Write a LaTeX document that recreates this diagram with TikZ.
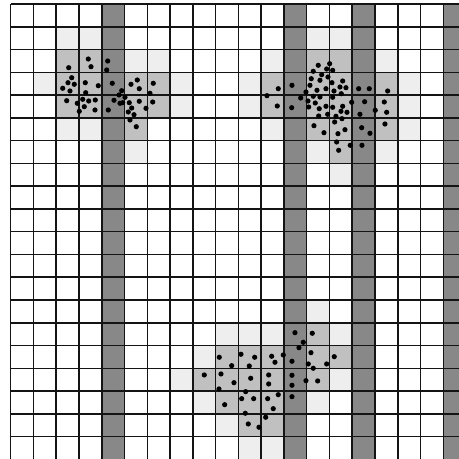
\documentclass[tikz,border=0pt]{standalone}
\usepackage{tikz}

\begin{document}
\begin{tikzpicture}[x=5.6925mm,y=-5.6925mm,
  faintcell/.style={fill={rgb,255:red,238;green,238;blue,238}},
  shadecell/.style={fill={rgb,255:red,192;green,192;blue,192}},
  stripcell/.style={fill={rgb,255:red,136;green,136;blue,136}},
  gridline/.style={draw={rgb,255:red,20;green,20;blue,20},line width=0.38mm},
  seedpt/.style={fill=black}]
% 20 x 20 cells, one cell = 22.77 px, top-left grid corner at (10.7,4) px
\useasboundingbox (-0.47,-0.176) rectangle (19.69,19.98);
\clip (-0.47,-0.176) rectangle (19.69,19.98);
% faint cells round the clusters
\foreach \c/\r in {2/1,3/1,1/3,2/5,3/5,5/2,6/2,7/3,7/4,5/6,
                   13/1,14/1,11/2,16/2,10/3,10/4,17/3,17/4,17/5,11/5,13/6,16/6,14/7,
                   13/13,14/14,9/14,10/14,11/14,8/15,7/16,14/16,8/17,13/17,9/18,10/19,11/19}
  \path[faintcell] (\c,\r) rectangle ++(1,1);
% shaded cells
\foreach \c/\r in {2/2,3/2,2/3,3/3,2/4,3/4,5/3,6/3,5/4,6/4,5/5,
                   13/2,14/2,11/3,13/3,14/3,16/3,11/4,13/4,14/4,16/4,13/5,14/5,16/5,14/6,
                   13/14,9/15,10/15,11/15,13/15,14/15,8/16,9/16,10/16,11/16,13/16,
                   9/17,10/17,11/17,10/18,11/18}
  \path[shadecell] (\c,\r) rectangle ++(1,1);
% dark strips
\foreach \c in {4,12,15,19}
  \path[stripcell] (\c,0) rectangle (\c+1,20);
% grid
\foreach \i in {0,...,20} {
  \path[gridline] (\i,0) -- (\i,20);
  \path[gridline] (0,\i) -- (20,\i);
}
% dots, in px
\begin{scope}[x=0.25mm,y=-0.25mm,shift={(-10.7,-4)}]
\foreach \px/\py in {88.3/59,91/66.7,107.7/61,106.7/70,68.7/67.7,71.7/77.7,68/82.7,74.3/84.3,
    62.7/88.3,70/91,85.3/82.7,98.3/85.7,112.3/83.3,121.7/90.7,119/95,125/97.3,122.7/102.7,
    85.7/92.7,66.7/100.7,82.7/99.3,88.7/101,95.3/100,77.3/103.3,84.3/106.7,79.3/111.3,
    95/110,114/100.3,120/103.3,108.3/110,131/84.3,137.3/80,139.3/88.7,153.3/83.3,150/93.3,
    152.7/102,139.3/101.3,129.3/102.7,146/108.3,131.7/108,128.3/112,134/114.7,130/120,136.3/126.7}
  \fill[seedpt] (\px,\py) circle (0.65mm);
\foreach \px/\py in {318.3/65.3,329.7/63.7,326.7/69,332.7/70.3,313.3/71.3,321.7/74.7,328/77,
    311.3/78.7,320/80.3,332/82.7,342.7/81,310/85.3,317/90.3,326/88.7,334/91,340/87,346/87.7,
    306/92,313.3/96.3,320/97,332.7/97.3,341.3/93.7,300.7/98,308/101,315.3/103,308.7/107,
    319.3/108.7,326/106.3,332.7/107.3,342.7/106.3,347/112.3,341/111.3,318.7/116,327.7/114.3,
    336/116.3,342/118.7,334.7/122,314/125.7,324/132.7,338/133.7,345/129.7,336.7/142,
    350.3/145.3,338.7/150.3,362/145.3,361.7/127.7,370/133.3,360/114.3,351.7/102.3,364.7/101.7,
    358.7/88.7,369.3/88.7,375.3/110.3,384.3/102,386.7/112.3,385/124,387.7/91,
    278.3/88.7,292/85.3,277.3/106,291.7/107.7,267/95.7}
  \fill[seedpt] (\px,\py) circle (0.65mm);
\foreach \px/\py in {295/332.7,312.3/333.3,303.3/342.3,299/347.7,311/352.7,334.3/356.7,
    283.3/355,292/361.3,271.7/356.3,275/362.3,254.7/357.3,241/354.3,219.3/357.3,231.7/365.7,
    249.3/366,308.3/364,313.3/368.3,326.7/364,204.3/375,221/374,250.7/378.3,268.7/375,
    292/375.3,306/380.7,317.7/381,234/382.7,268.7/384,292/385.3,219/389,245.7/391.7,
    278.3/394.7,292/396.7,241.7/398.7,253.7/398.7,267.7/398.7,224.7/404.7,273.3/408.7,
    245.3/413.3,265.7/417.3,248.3/424,259/427.3}
  \fill[seedpt] (\px,\py) circle (0.65mm);
\end{scope}
\end{tikzpicture}
\end{document}
